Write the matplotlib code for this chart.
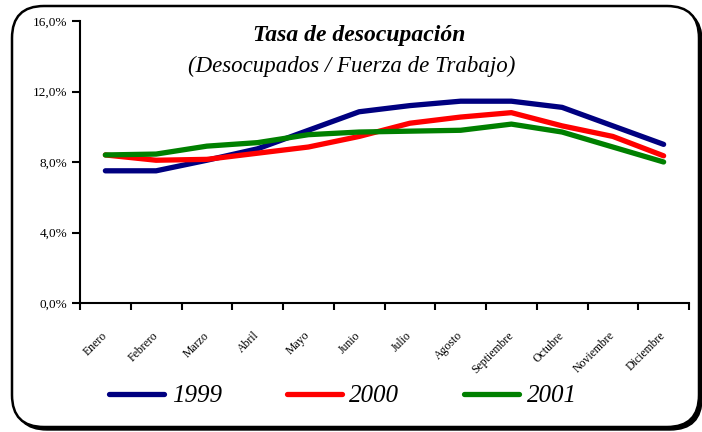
import numpy as np
import matplotlib
matplotlib.use("Agg")
import matplotlib.pyplot as plt
from matplotlib.patches import FancyBboxPatch
from matplotlib.ticker import FuncFormatter
import matplotlib.transforms as mtransforms

# --- DATOS ---
meses = ['Enero', 'Febrero', 'Marzo', 'Abril', 'Mayo', 'Junio', 'Julio',
         'Agosto', 'Septiembre', 'Octubre', 'Noviembre', 'Diciembre']

tasa_1999 = [7.5, 7.5, 8.1, 8.75, 9.8, 10.85, 11.2, 11.45, 11.45, 11.1, 10.05, 9.0]
tasa_2000 = [8.4, 8.1, 8.15, 8.5, 8.85, 9.45, 10.2, 10.55, 10.8, 10.05, 9.45, 8.35]
tasa_2001 = [8.4, 8.45, 8.9, 9.1, 9.55, 9.7, 9.75, 9.8, 10.15, 9.7, 8.85, 8.0]

series = {'1999': tasa_1999, '2000': tasa_2000, '2001': tasa_2001}
colores = {'1999': '#000080', '2000': '#FF0000', '2001': '#008000'}

serif = ['Liberation Serif', 'DejaVu Serif']

# --- FIGURA ---
fig = plt.figure(figsize=(7.02, 4.32), dpi=100)

# marco redondeado con sombra
sombra = FancyBboxPatch((0.15, 0.02), 6.87, 4.21,
                        boxstyle="round,pad=0,rounding_size=0.32",
                        transform=fig.dpi_scale_trans, facecolor='black',
                        edgecolor='black', lw=1, zorder=0)
marco = FancyBboxPatch((0.12, 0.05), 6.87, 4.21,
                       boxstyle="round,pad=0,rounding_size=0.32",
                       transform=fig.dpi_scale_trans, facecolor='white',
                       edgecolor='black', lw=1.8, zorder=1)
fig.patches.extend([sombra, marco])

ax = fig.add_axes([80 / 702, 129 / 432, 609 / 702, 282 / 432])
ax.set_zorder(2)
ax.patch.set_alpha(0)

x = np.arange(len(meses))
for anio, valores in series.items():
    ax.plot(x, np.array(valores) / 100, color=colores[anio], lw=3.8,
            solid_capstyle='round', solid_joinstyle='round', label=anio)

ax.set_xlim(-0.5, len(meses) - 0.5)
ax.set_ylim(0, 0.16)
ax.set_yticks(np.arange(0, 0.161, 0.04))
ax.yaxis.set_major_formatter(FuncFormatter(lambda v, p: f"{v * 100:.1f}%".replace('.', ',')))

# ticks entre categorías, etiquetas en el centro
ax.set_xticks(np.arange(-0.5, len(meses)), minor=False)
ax.set_xticklabels([])
ax.set_xticks(x, minor=True)
ax.set_xticklabels(meses, minor=True, rotation=45, ha='right', va='center',
                   rotation_mode='anchor', fontsize=8.5, family=serif)
offset = mtransforms.ScaledTranslation(-12 / 100, 0, fig.dpi_scale_trans)
for lbl in ax.get_xticklabels(minor=True):
    lbl.set_transform(lbl.get_transform() + offset)

ax.tick_params(axis='x', which='major', direction='out', length=5, width=1.5)
ax.tick_params(axis='x', which='minor', length=0, pad=22)
ax.tick_params(axis='y', direction='out', length=6, width=1.5, pad=3)
for lbl in ax.get_yticklabels():
    lbl.set_family(serif)
    lbl.set_fontsize(9.5)

for lado in ['top', 'right']:
    ax.spines[lado].set_visible(False)
for lado in ['left', 'bottom']:
    ax.spines[lado].set_linewidth(1.5)

# --- TITULOS ---
fig.text(359 / 702, 1 - 36 / 432, 'Tasa de desocupación', ha='center', va='center',
         fontsize=17, fontweight='bold', fontstyle='italic', family=serif, zorder=3)
fig.text(352 / 702, 1 - 66 / 432, '(Desocupados / Fuerza de Trabajo)', ha='center',
         va='center', fontsize=16.5, fontstyle='italic', family=serif, zorder=3)

# --- LEYENDA ---
handles, labels = ax.get_legend_handles_labels()
leg = fig.legend(handles, labels, loc='center', bbox_to_anchor=(343 / 702, 1 - 396 / 432),
                 ncol=3, frameon=False, handlelength=2.2, handletextpad=0.3,
                 columnspacing=2.6, prop={'family': serif, 'style': 'italic', 'size': 18})
leg.set_zorder(3)

fig.savefig('out.png', dpi=100)
